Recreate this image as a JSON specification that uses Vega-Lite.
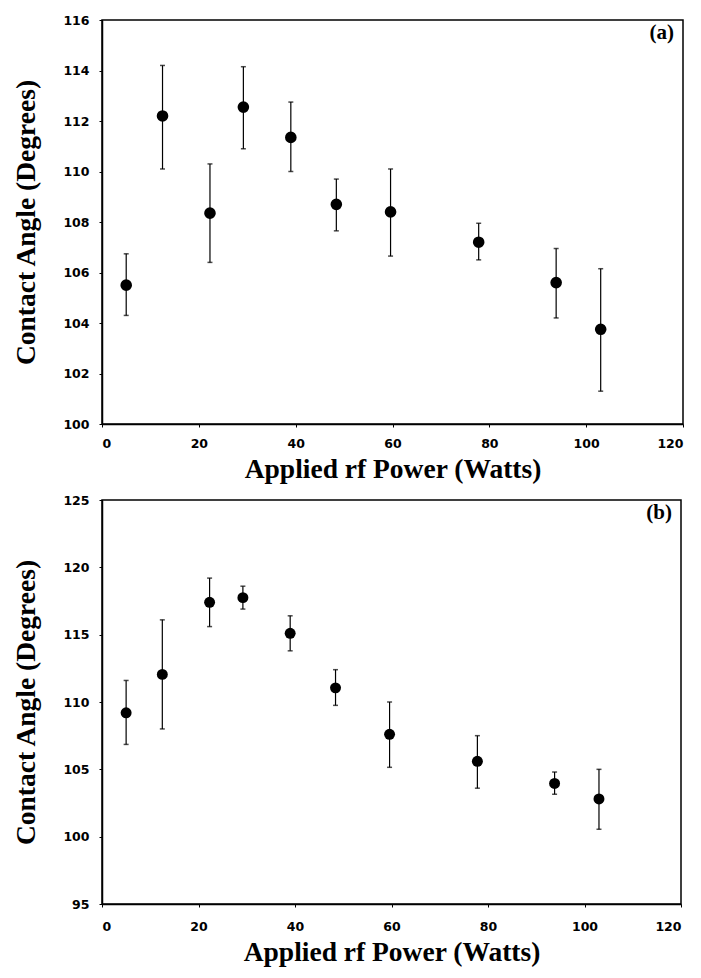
{
  "$schema": "https://vega.github.io/schema/vega-lite/v6.json",
  "background": "white",
  "padding": {"left": 12, "top": 13, "right": 12, "bottom": 4},
  "spacing": 9,
  "config": {
    "view": {"stroke": "black", "strokeWidth": 1.5},
    "axis": {
      "grid": false,
      "domainColor": "black",
      "domainWidth": 1.5,
      "tickColor": "black",
      "tickSize": 3,
      "labelColor": "black",
      "titleColor": "black",
      "labelFont": "DejaVu Sans",
      "labelFontWeight": "bold",
      "labelFontSize": 12.5,
      "titleFont": "Liberation Serif",
      "titleFontWeight": "bold",
      "titleFontSize": 27.5
    }
  },
  "datasets": {
    "a": [
      {"power": 5, "angle": 105.5, "low": 104.3, "high": 106.74},
      {"power": 12.5, "angle": 112.2, "low": 110.1, "high": 114.2},
      {"power": 22.3, "angle": 108.35, "low": 106.4, "high": 110.3},
      {"power": 29.2, "angle": 112.55, "low": 110.9, "high": 114.15},
      {"power": 39, "angle": 111.35, "low": 110.0, "high": 112.75},
      {"power": 48.4, "angle": 108.7, "low": 107.65, "high": 109.7},
      {"power": 59.6, "angle": 108.4, "low": 106.65, "high": 110.1},
      {"power": 77.8, "angle": 107.2, "low": 106.5, "high": 107.95},
      {"power": 93.8, "angle": 105.6, "low": 104.2, "high": 106.95},
      {"power": 103, "angle": 103.75, "low": 101.3, "high": 106.15}
    ],
    "b": [
      {"power": 5, "angle": 109.2, "low": 106.85, "high": 111.6},
      {"power": 12.5, "angle": 112.05, "low": 108.0, "high": 116.1},
      {"power": 22.3, "angle": 117.4, "low": 115.6, "high": 119.2},
      {"power": 29.2, "angle": 117.75, "low": 116.9, "high": 118.6},
      {"power": 39, "angle": 115.1, "low": 113.8, "high": 116.4},
      {"power": 48.4, "angle": 111.05, "low": 109.75, "high": 112.4},
      {"power": 59.6, "angle": 107.6, "low": 105.15, "high": 110.0},
      {"power": 77.8, "angle": 105.6, "low": 103.6, "high": 107.5},
      {"power": 93.8, "angle": 103.95, "low": 103.15, "high": 104.8},
      {"power": 103, "angle": 102.8, "low": 100.55, "high": 105.0}
    ]
  },
  "vconcat": [
    {
      "width": 581,
      "height": 404,
      "data": {"name": "a"},
      "layer": [
        {
          "mark": {"type": "rule", "color": "black", "strokeWidth": 1.2},
          "encoding": {
            "x": {"field": "power", "type": "quantitative", "scale": {"domain": [0, 120], "nice": false},
              "axis": {"values": [0, 20, 40, 60, 80, 100, 120], "title": "Applied rf Power (Watts)", "labelPadding": 10, "titlePadding": 6}},
            "y": {"field": "low", "type": "quantitative", "scale": {"domain": [100, 116], "nice": false},
              "axis": {"values": [100, 102, 104, 106, 108, 110, 112, 114, 116], "title": "Contact Angle (Degrees)", "labelPadding": 10, "titlePadding": 22}},
            "y2": {"field": "high"}
          }
        },
        {
          "mark": {"type": "tick", "orient": "horizontal", "color": "black", "size": 5, "thickness": 1.5},
          "encoding": {
            "x": {"field": "power", "type": "quantitative"},
            "y": {"field": "high", "type": "quantitative"}
          }
        },
        {
          "mark": {"type": "tick", "orient": "horizontal", "color": "black", "size": 5, "thickness": 1.5},
          "encoding": {
            "x": {"field": "power", "type": "quantitative"},
            "y": {"field": "low", "type": "quantitative"}
          }
        },
        {
          "mark": {"type": "point", "filled": true, "color": "black", "opacity": 1, "size": 135},
          "encoding": {
            "x": {"field": "power", "type": "quantitative"},
            "y": {"field": "angle", "type": "quantitative"}
          }
        },
        {
          "data": {"values": [{"label": "(a)"}]},
          "mark": {"type": "text", "font": "Liberation Serif", "fontWeight": "bold", "fontSize": 21, "align": "right", "baseline": "top", "dx": -9, "dy": 2, "color": "black"},
          "encoding": {
            "x": {"datum": 120, "type": "quantitative"},
            "y": {"datum": 116, "type": "quantitative"},
            "text": {"field": "label"}
          }
        }
      ]
    },
    {
      "width": 579,
      "height": 404,
      "data": {"name": "b"},
      "layer": [
        {
          "mark": {"type": "rule", "color": "black", "strokeWidth": 1.2},
          "encoding": {
            "x": {"field": "power", "type": "quantitative", "scale": {"domain": [0, 120], "nice": false},
              "axis": {"values": [0, 20, 40, 60, 80, 100, 120], "title": "Applied rf Power (Watts)", "labelPadding": 13, "titlePadding": 6}},
            "y": {"field": "low", "type": "quantitative", "scale": {"domain": [95, 125], "nice": false, "zero": false},
              "axis": {"values": [95, 100, 105, 110, 115, 120, 125], "title": "Contact Angle (Degrees)", "labelPadding": 10, "titlePadding": 22}},
            "y2": {"field": "high"}
          }
        },
        {
          "mark": {"type": "tick", "orient": "horizontal", "color": "black", "size": 5, "thickness": 1.5},
          "encoding": {
            "x": {"field": "power", "type": "quantitative"},
            "y": {"field": "high", "type": "quantitative"}
          }
        },
        {
          "mark": {"type": "tick", "orient": "horizontal", "color": "black", "size": 5, "thickness": 1.5},
          "encoding": {
            "x": {"field": "power", "type": "quantitative"},
            "y": {"field": "low", "type": "quantitative"}
          }
        },
        {
          "mark": {"type": "point", "filled": true, "color": "black", "opacity": 1, "size": 120},
          "encoding": {
            "x": {"field": "power", "type": "quantitative"},
            "y": {"field": "angle", "type": "quantitative"}
          }
        },
        {
          "data": {"values": [{"label": "(b)"}]},
          "mark": {"type": "text", "font": "Liberation Serif", "fontWeight": "bold", "fontSize": 21, "align": "right", "baseline": "top", "dx": -9, "dy": 2, "color": "black"},
          "encoding": {
            "x": {"datum": 120, "type": "quantitative"},
            "y": {"datum": 125, "type": "quantitative"},
            "text": {"field": "label"}
          }
        }
      ]
    }
  ]
}
